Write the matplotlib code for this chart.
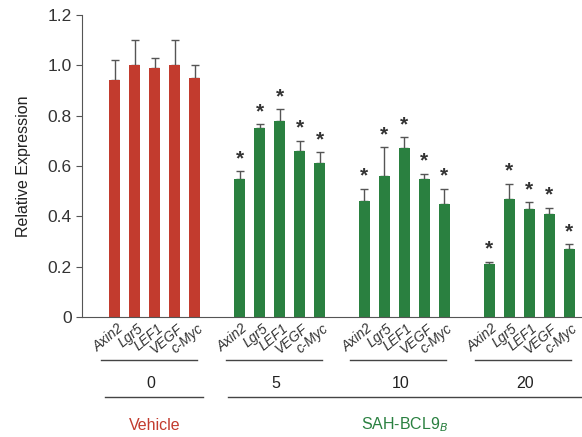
import numpy as np
import matplotlib.pyplot as plt

plt.rcParams['font.family'] = ['Liberation Sans', 'DejaVu Sans']

genes = ['Axin2', 'Lgr5', 'LEF1', 'VEGF', 'c-Myc']
doses = ['0', '5', '10', '20']

vehicle = [0.94, 1.00, 0.99, 1.00, 0.95]
vehicle_err = [0.08, 0.10, 0.04, 0.10, 0.05]
sah_5 = [0.55, 0.75, 0.78, 0.66, 0.61]
sah_5_err = [0.03, 0.015, 0.045, 0.04, 0.045]
sah_10 = [0.46, 0.56, 0.67, 0.55, 0.45]
sah_10_err = [0.05, 0.115, 0.045, 0.02, 0.06]
sah_20 = [0.21, 0.47, 0.43, 0.41, 0.27]
sah_20_err = [0.01, 0.06, 0.025, 0.025, 0.02]

red = '#c23b2e'
green = '#2a8040'

W, H = 582, 437
x0, x1, ybase, ytop = 82, 582, 317, 15

fig = plt.figure(figsize=(W / 100, H / 100), dpi=100)
ax = fig.add_axes([x0 / W, 1 - ybase / H, (x1 - x0) / W, (ybase - ytop) / H])

groups = [vehicle, sah_5, sah_10, sah_20]
errs = [vehicle_err, sah_5_err, sah_10_err, sah_20_err]
gap = 6.25


def fy(pix):
    # figure pixel row -> axes fraction
    return (ybase - pix) / (ybase - ytop)


tr = ax.get_xaxis_transform()
for g, (vals, err) in enumerate(zip(groups, errs)):
    xs = g * gap + np.arange(5)
    col = red if g == 0 else green
    ax.bar(xs, vals, width=0.55, color=col, zorder=2)
    ax.errorbar(xs, vals, yerr=[np.zeros(5), err], fmt='none', ecolor='#555555',
                elinewidth=1, capsize=3, capthick=1, zorder=1)
    if g > 0:
        for x, v, e in zip(xs, vals, err):
            ax.text(x, v + e + 0.012, '*', ha='center', va='bottom', fontsize=15,
                    fontweight='bold', color='#333333')
    for x, name in zip(xs, genes):
        ax.text(x + 0.1, fy(321), name, transform=tr, rotation=40,
                rotation_mode='anchor', ha='right', va='top', fontsize=10,
                style='italic', color='#333333')
    ax.plot([xs[0] - 0.7, xs[-1] + 0.1], [fy(360), fy(360)], transform=tr,
            color='#444444', lw=1, clip_on=False)
    ax.text(xs[2] - 0.2, fy(383), doses[g], transform=tr, ha='center', va='center',
            fontsize=11.5, color='#222222')

ax.plot([-0.5, 4.4], [fy(397), fy(397)], transform=tr, color='#444444', lw=1,
        clip_on=False)
ax.plot([gap - 0.6, 3 * gap + 4.7], [fy(397), fy(397)], transform=tr,
        color='#444444', lw=1, clip_on=False)
ax.text(2.0, fy(425), 'Vehicle', transform=tr, ha='center', va='center',
        fontsize=11.5, color=red)
ax.text(gap * 2 + 2.0, fy(425), r'SAH-BCL9$_{B}$', transform=tr, ha='center',
        va='center', fontsize=11.5, color=green)

ax.set_xlim(-1.65, 3 * gap + 4.65)
ax.set_ylim(0, 1.2)
ax.set_yticks([0, 0.2, 0.4, 0.6, 0.8, 1.0, 1.2])
ax.set_yticklabels(['0', '0.2', '0.4', '0.6', '0.8', '1.0', '1.2'])
ax.tick_params(axis='y', labelsize=12.5, colors='#333333', length=4, color='#555555')
ax.set_xticks([])
ax.set_ylabel('Relative Expression', fontsize=11.5, color='#222222', labelpad=12)
for s in ['top', 'right']:
    ax.spines[s].set_visible(False)
ax.spines['left'].set_color('#555555')
ax.spines['bottom'].set_color('#555555')

fig.savefig('out.png', dpi=100)
